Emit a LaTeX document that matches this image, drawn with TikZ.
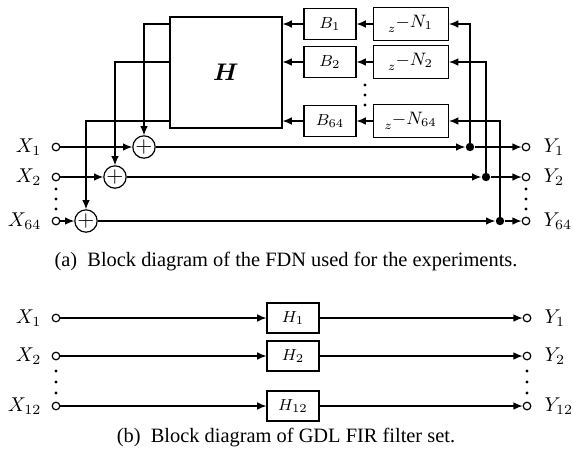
\documentclass[tikz,border=0pt]{standalone}
\usepackage{amsmath}
\usepackage{fontspec}
\setmainfont{Liberation Serif}
\usetikzlibrary{arrows.meta}
\begin{document}
\begin{tikzpicture}[x=0.5pt,y=-0.5pt,
  line width=0.6pt,
  arr/.style={-{Latex[length=4.6pt,width=3.8pt]}},
  blk/.style={draw,minimum width=26pt,minimum height=15.5pt,inner sep=0pt,font=\fontsize{8.5}{10}\selectfont},
  dly/.style={draw,minimum width=37.5pt,minimum height=16.5pt,inner sep=0pt,font=\fontsize{9}{10}\selectfont},
  sumnode/.style={draw,circle,minimum size=10pt,inner sep=0pt,font=\fontsize{11}{12}\selectfont},
  port/.style={draw,circle,fill=white,minimum size=3.8pt,inner sep=0pt},
  jn/.style={fill,circle,minimum size=4.2pt,inner sep=0pt},
  vdot/.style={fill,circle,minimum size=1.7pt,inner sep=0pt},
  lbl/.style={inner sep=0pt,font=\fontsize{10.3}{12}\selectfont},
  capt/.style={inner sep=0pt,font=\fontsize{10.2}{12}\selectfont}
]
\useasboundingbox (0,0) rectangle (573,462);

% ---------- (a) FDN ----------
\node[draw,minimum width=56pt,minimum height=55.5pt,inner sep=0pt] (H) at (226,72.5) {\fontsize{13}{15}\selectfont$\boldsymbol{H}$};

\node[blk] (B1) at (330,24) {$B_1$};
\node[blk] (B2) at (330,62) {$B_2$};
\node[blk] (B3) at (330,121) {$B_{64}$};
\node[dly] (Z1) at (411,24) {$\scriptstyle z^{\textstyle -N_1}$};
\node[dly] (Z2) at (411,62) {$\scriptstyle z^{\textstyle -N_2}$};
\node[dly] (Z3) at (411,121) {$\scriptstyle z^{\textstyle -N_{64}}$};
\node[vdot] (md1) at (365,85) {};
\node[vdot] (md2) at (365,95) {};
\node[vdot] (md3) at (365,105) {};

\node[sumnode] (S1) at (144,147) {$+$};
\node[sumnode] (S2) at (115,177) {$+$};
\node[sumnode] (S3) at (86,221) {$+$};

\node[port] (X1) at (56,147) {};
\node[port] (X2) at (56,177) {};
\node[port] (X3) at (56,221) {};
\node[lbl,anchor=east] (xl1) at (42,147) {$X_1$};
\node[lbl,anchor=east] (xl2) at (42,177) {$X_2$};
\node[lbl,anchor=east] (xl3) at (42,221) {$X_{64}$};
\node[vdot] (ld1) at (56,189) {};
\node[vdot] (ld2) at (56,199) {};
\node[vdot] (ld3) at (56,209) {};

\node[jn] (J1) at (470,147) {};
\node[jn] (J2) at (486,177) {};
\node[jn] (J3) at (500,221) {};

\node[port] (Y1) at (526,147) {};
\node[port] (Y2) at (526,177) {};
\node[port] (Y3) at (526,221) {};
\node[lbl,anchor=west] (yl1) at (543,147) {$Y_1$};
\node[lbl,anchor=west] (yl2) at (543,177) {$Y_2$};
\node[lbl,anchor=west] (yl3) at (543,221) {$Y_{64}$};
\node[vdot] (rd1) at (526,189) {};
\node[vdot] (rd2) at (526,199) {};
\node[vdot] (rd3) at (526,209) {};

% main rows
\draw[arr] (X1) -- (S1);
\draw[arr] (X2) -- (S2);
\draw[arr] (X3) -- (S3);
\draw[arr] (S1) -- (J1);
\draw[arr] (S2) -- (J2);
\draw[arr] (S3) -- (J3);
\draw[arr] (J1) -- (Y1);
\draw[arr] (J2) -- (Y2);
\draw[arr] (J3) -- (Y3);

% feedback
\draw[arr] (J1.center) |- (Z1);
\draw[arr] (J2.center) |- (Z2);
\draw[arr] (J3.center) |- (Z3);
\draw[arr] (Z1) -- (B1);
\draw[arr] (Z2) -- (B2);
\draw[arr] (Z3) -- (B3);
\draw[arr] (B1) -- (B1 -| H.east);
\draw[arr] (B2) -- (B2 -| H.east);
\draw[arr] (B3) -- (B3 -| H.east);
\draw[arr] (B1 -| H.west) -| (S1);
\draw[arr] (B2 -| H.west) -| (S2);
\draw[arr] (B3 -| H.west) -| (S3);

\node[capt] (ca) at (286,262) {(a)\hspace{0.5em}Block diagram of the FDN used for the experiments.};

% ---------- (b) GDL FIR ----------
\node[blk,minimum height=15pt] (G1) at (293,318) {$H_1$};
\node[blk,minimum height=15pt] (G2) at (293,356) {$H_2$};
\node[blk,minimum height=15pt] (G3) at (293,406) {$H_{12}$};

\node[port] (P1) at (56,318) {};
\node[port] (P2) at (56,356) {};
\node[port] (P3) at (56,406) {};
\node[lbl,anchor=east] (pl1) at (42,318) {$X_1$};
\node[lbl,anchor=east] (pl2) at (42,356) {$X_2$};
\node[lbl,anchor=east] (pl3) at (42,406) {$X_{12}$};
\node[vdot] (pd1) at (56,371) {};
\node[vdot] (pd2) at (56,382) {};
\node[vdot] (pd3) at (56,393) {};

\node[port] (Q1) at (527,318) {};
\node[port] (Q2) at (527,356) {};
\node[port] (Q3) at (527,406) {};
\node[lbl,anchor=west] (ql1) at (544,318) {$Y_1$};
\node[lbl,anchor=west] (ql2) at (544,356) {$Y_2$};
\node[lbl,anchor=west] (ql3) at (544,406) {$Y_{12}$};
\node[vdot] (qd1) at (527,371) {};
\node[vdot] (qd2) at (527,382) {};
\node[vdot] (qd3) at (527,393) {};

\draw[arr] (P1) -- (G1);
\draw[arr] (P2) -- (G2);
\draw[arr] (P3) -- (G3);
\draw[arr] (G1) -- (Q1);
\draw[arr] (G2) -- (Q2);
\draw[arr] (G3) -- (Q3);

\node[capt] (cb) at (286,438) {(b)\hspace{0.5em}Block diagram of GDL FIR filter set.};
\end{tikzpicture}
\end{document}
